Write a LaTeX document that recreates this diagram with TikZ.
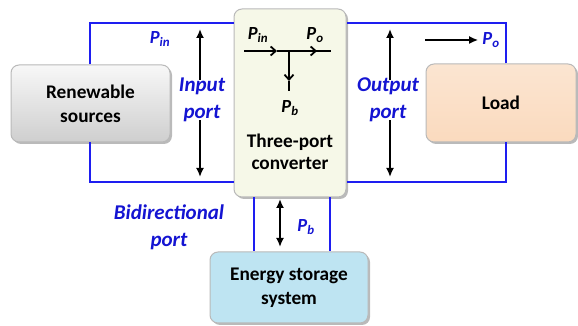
\documentclass[tikz,border=0pt]{standalone}
\usepackage{fontspec}
\setmainfont{Carlito}
\usetikzlibrary{arrows.meta,shadows}
\definecolor{wireblue}{RGB}{30,30,240}
\definecolor{txtblue}{RGB}{20,20,210}
\definecolor{convfill}{RGB}{246,248,232}
\definecolor{loadfill}{RGB}{250,218,190}
\definecolor{storfill}{RGB}{190,228,242}
\tikzset{
  blk/.style={rounded corners=8pt, draw=gray!55, line width=1pt, align=center,
     font=\bfseries\fontsize{19.3}{24}\selectfont, inner sep=0pt,
     drop shadow={shadow xshift=2pt, shadow yshift=-2pt, opacity=0.45, fill=gray!80!black}},
  wire/.style={draw=wireblue, line width=1.6pt},
  flow/.style={line width=1.8pt, -{Latex[length=9pt,width=8pt]}},
  barb/.style={line width=2pt, -{Straight Barb[length=5pt,width=9pt,line width=1.8pt]}},
  bluelbl/.style={text=txtblue, font=\bfseries\itshape\fontsize{21}{27}\selectfont, align=center, inner sep=0pt},
  plbl/.style={font=\bfseries\itshape\fontsize{18.5}{20}\selectfont, inner sep=0pt},
}
\begin{document}
\begin{tikzpicture}[x=1pt,y=1pt]
\useasboundingbox (0,0) rectangle (578,326);
% boxes
\node[blk, minimum width=112pt, minimum height=188pt, fill=convfill] (conv) at (290,223) {};
\node[blk, minimum width=159pt, minimum height=77pt, top color=gray!6, bottom color=gray!38] (ren) at (90.5,222.5) {Renewable\\sources};
\node[blk, minimum width=150pt, minimum height=78pt, top color=loadfill!70, bottom color=loadfill] (load) at (501,223) {Load};
\node[blk, minimum width=158pt, minimum height=71pt, fill=storfill] (stor) at (289,38.5) {Energy storage\\system};
% wires
\coordinate (tl) at (90,303);
\coordinate (bl) at (90,144);
\coordinate (tr) at (506,303);
\coordinate (br) at (506,144);
\draw[wire] (ren.north -| tl) -- (tl) -- (conv.west |- tl);
\draw[wire] (ren.south -| bl) -- (bl) -- (conv.west |- bl);
\draw[wire] (load.north -| tr) -- (tr) -- (conv.east |- tr);
\draw[wire] (load.south -| br) -- (br) -- (conv.east |- br);
\coordinate (sl) at (254,0);
\coordinate (sr) at (330,0);
\draw[wire] (conv.south -| sl) -- (stor.north -| sl);
\draw[wire] (conv.south -| sr) -- (stor.north -| sr);
% port labels
\node[bluelbl] (inl) at (202,226) {Input\\port};
\node[bluelbl] (outl) at (388,226) {Output\\port};
\node[bluelbl] (bil) at (169,99) {Bidirectional\\port};
% port arrows
\coordinate (inT) at (200,297);
\coordinate (inB) at (200,149);
\coordinate (outT) at (390,297);
\coordinate (outB) at (390,149);
\draw[flow] (inl.north -| inT) ++(0,-2) coordinate (inA) (inA) -- (inT);
\draw[flow] (inl.south -| inB) ++(0,2) coordinate (inC) (inC) -- (inB);
\draw[flow] (outl.north -| outT) ++(0,-2) coordinate (outA) (outA) -- (outT);
\draw[flow] (outl.south -| outB) ++(0,2) coordinate (outC) (outC) -- (outB);
\coordinate (bT) at (280,127);
\coordinate (bB) at (280,79);
\draw[line width=1.8pt, {Latex[length=9pt,width=8pt]}-{Latex[length=9pt,width=8pt]}] (bT) -- (bB);
% power labels outside
\node[plbl, text=txtblue] (pin) at (160,287) {P\textsubscript{in}};
\coordinate (poA) at (425,286);
\node[plbl, text=txtblue] (po) at (491,286) {P\textsubscript{o}};
\draw[flow] (poA) -- ([xshift=-4pt]po.west);
\node[plbl, text=txtblue] (pb) at (306,99) {P\textsubscript{b}};
% inside converter
\coordinate (h0) at (244,275);
\coordinate (h1) at (277,275);
\coordinate (hj) at (289,275);
\coordinate (h2) at (317,275);
\coordinate (h3) at (331,275);
\coordinate (v1) at (289,245);
\coordinate (v2) at (289,235);
\draw[barb] (h0) -- (h1);
\draw[line width=2pt] (h1) -- (h3);
\draw[barb] (hj) -- (h2);
\draw[barb] (hj) -- (v1);
\draw[line width=2pt] (v1) -- (v2);
\node[plbl] (cpin) at (258,291) {P\textsubscript{in}};
\node[plbl] (cpo) at (315,291) {P\textsubscript{o}};
\node[plbl] (cpb) at (290,218) {P\textsubscript{b}};
\node[align=center, font=\bfseries\fontsize{19.3}{22}\selectfont, inner sep=0pt] (ctxt) at (290,174) {Three-port\\converter};
\end{tikzpicture}
\end{document}
